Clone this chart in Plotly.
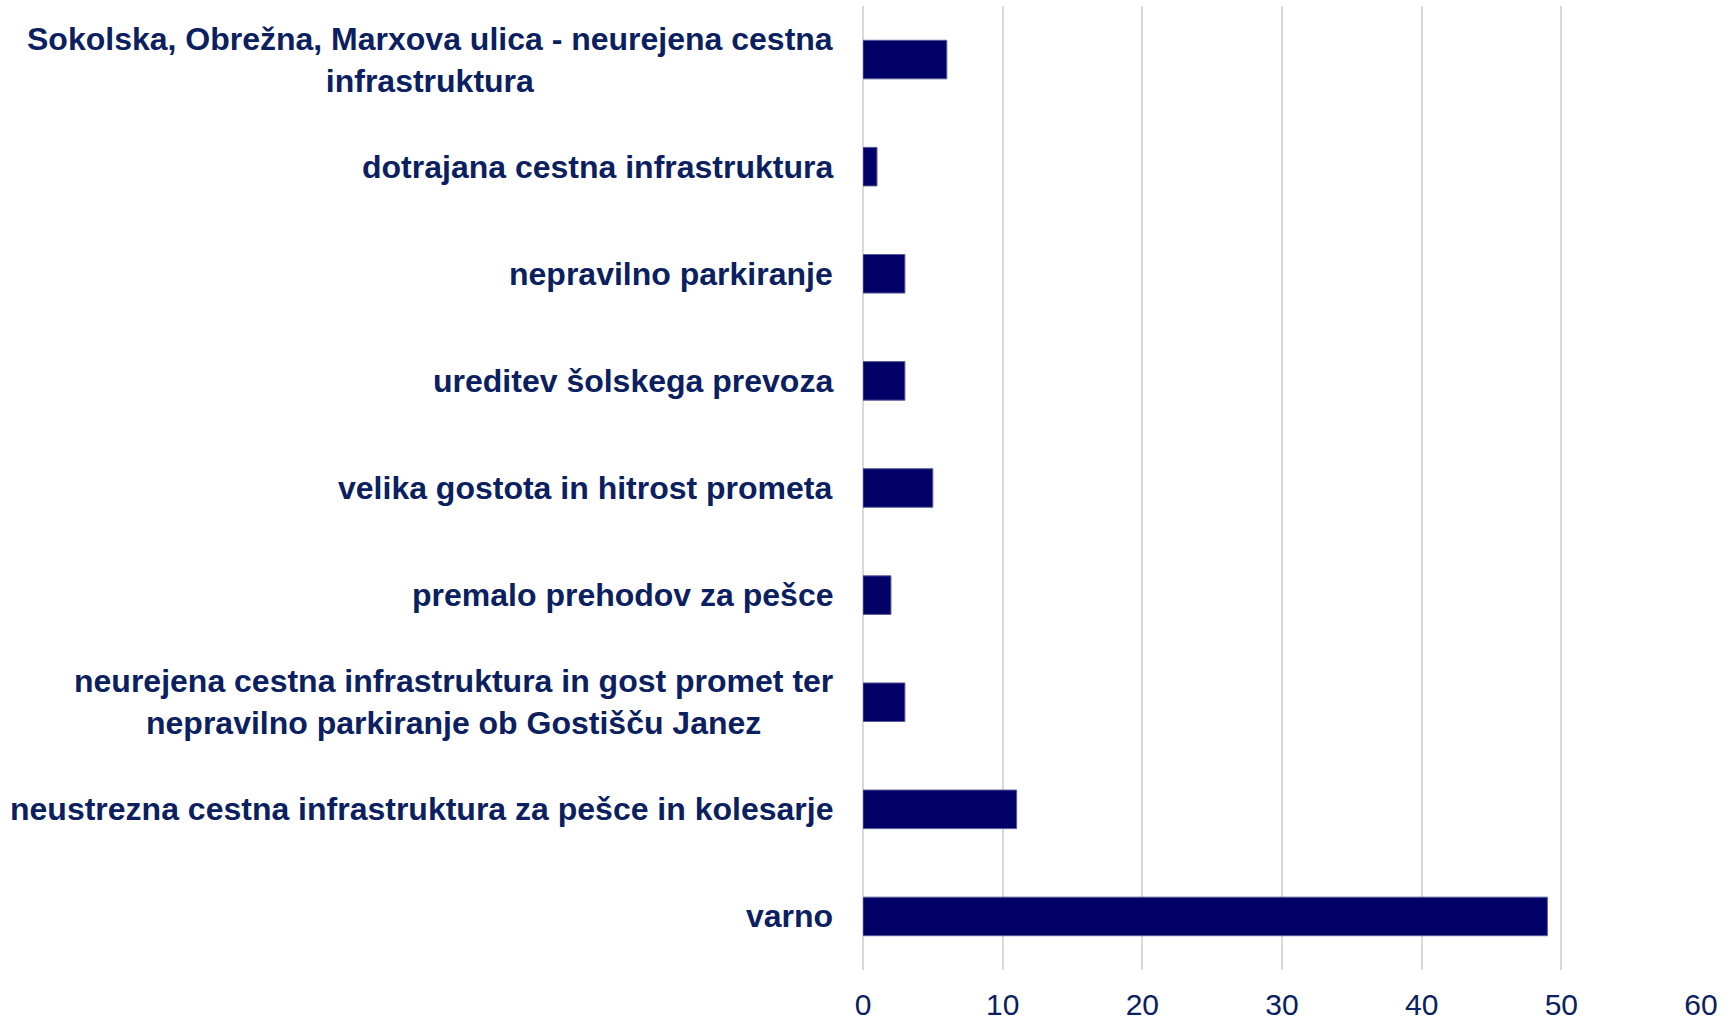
import plotly.graph_objects as go

# categories listed bottom to top
categories = [
    "varno",
    "neustrezna cestna infrastruktura za pešce in kolesarje",
    "neurejena cestna infrastruktura in gost promet ter<br>nepravilno parkiranje ob Gostišču Janez",
    "premalo prehodov za pešce",
    "velika gostota in hitrost prometa",
    "ureditev šolskega prevoza",
    "nepravilno parkiranje",
    "dotrajana cestna infrastruktura",
    "Sokolska, Obrežna, Marxova ulica - neurejena cestna<br>infrastruktura",
]
counts = [49, 11, 3, 2, 5, 3, 3, 1, 6]
x_ticks = [0, 10, 20, 30, 40, 50, 60]

text_color = "#0b2060"
bar_color = "#000066"

fig = go.Figure()
fig.add_trace(go.Bar(
    x=counts,
    y=categories,
    orientation="h",
    marker=dict(color=bar_color, line=dict(color="#5a5a9a", width=1)),
    width=0.36,
    hoverinfo="x+y",
))

# category labels as centred annotations, right edge next to the axis
for cat in categories:
    fig.add_annotation(
        x=0, y=cat, xref="x", yref="y",
        text="<b>" + cat + "</b>",
        showarrow=False,
        xanchor="right", yanchor="middle",
        align="center",
        xshift=-28,
        font=dict(family="Liberation Sans, Arial, sans-serif", size=32, color=text_color),
    )

fig.update_layout(
    width=1735,
    height=1023,
    margin=dict(l=863, r=34, t=6, b=53),
    plot_bgcolor="white",
    paper_bgcolor="white",
    showlegend=False,
    font=dict(family="Liberation Sans, Arial, sans-serif", color=text_color),
)
fig.update_xaxes(
    range=[0, 60],
    tickvals=x_ticks,
    showgrid=True,
    gridcolor="#d9d9d9",
    gridwidth=1.5,
    zeroline=True,
    zerolinecolor="#d9d9d9",
    zerolinewidth=1.5,
    showline=False,
    tickfont=dict(size=30, color=text_color),
    ticks="",
    ticklabelstandoff=14,
    automargin=False,
)
fig.update_yaxes(
    categoryorder="array",
    categoryarray=categories,
    showticklabels=False,
    showgrid=False,
    range=[-0.5, len(categories) - 0.5],
    automargin=False,
)

# drop the default page margin so the figure sits at the window's top-left
fig.write_html(
    "out.html",
    config={"displayModeBar": False},
    post_script="document.body.style.margin='0';",
)
